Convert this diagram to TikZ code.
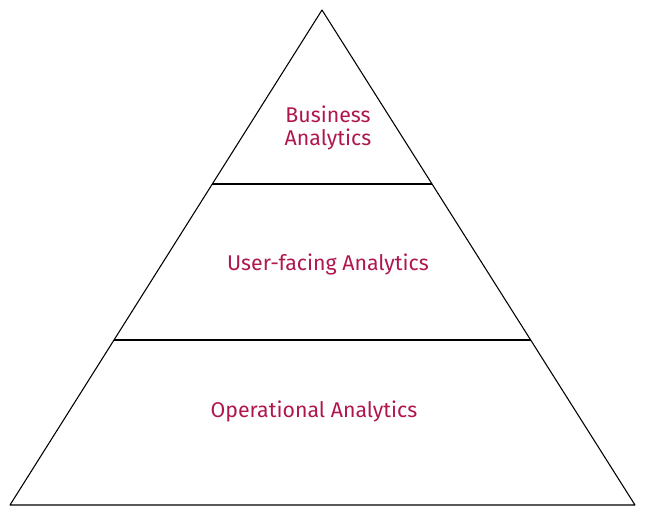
\documentclass[tikz,border=0pt]{standalone}
\usepackage{fontspec}
\setmainfont{Fira Sans}
\usepackage{xcolor}
\usetikzlibrary{positioning,calc}
\definecolor{labelred}{HTML}{B0164E}

\begin{document}
\begin{tikzpicture}[x=0.75pt,y=-0.75pt]
\tikzstyle{layer}=[text=labelred, align=center, font=\fontsize{16}{17.5}\selectfont]
\tikzstyle{edge}=[draw, line width=0.8pt, line join=round]
\useasboundingbox (0,0) rectangle (645,518);
\coordinate (top) at (322,10);
\coordinate (bl) at (10,505);
\coordinate (br) at (635,505);
\coordinate (ul) at ($(top)!0.3515!(bl)$);
\coordinate (ur) at ($(top)!0.3515!(br)$);
\coordinate (ml) at ($(top)!0.6667!(bl)$);
\coordinate (mr) at ($(top)!0.6667!(br)$);
\draw[edge] (top) -- (bl) -- (br) -- cycle;
\draw[edge] (ul) -- (ur);
\draw[edge] (ml) -- (mr);
\node[layer] (biz) at (328,128) {Business\\Analytics};
\node[layer] (user) at (328,264) {User-facing Analytics};
\node[layer] (ops) at (314,411) {Operational Analytics};
\end{tikzpicture}
\end{document}
